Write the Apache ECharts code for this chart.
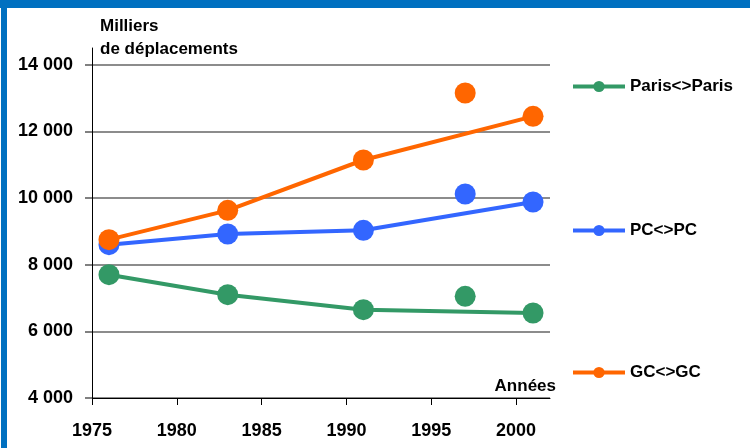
<!DOCTYPE html>
<html>
<head>
<meta charset="utf-8">
<script src="https://cdn.jsdelivr.net/npm/echarts@6/dist/echarts.min.js"></script>
<style>
html,body{margin:0;padding:0;background:#fff;}
#c{width:750px;height:448px;}
</style>
</head>
<body>
<div id="c"></div>
<script>
// ---- data ----
var lineYears = [1976, 1983, 1991, 2001];
var extraYear = 1997;
var parisLine = [7700, 7100, 6650, 6550];
var parisExtra = 7050;
var pcLine = [8600, 8920, 9030, 9880];
var pcExtra = 10120;
var gcLine = [8750, 9630, 11140, 12450];
var gcExtra = 13150;
var seriesNames = ['Paris<>Paris', 'PC<>PC', 'GC<>GC'];
var xTicks = [1975, 1980, 1985, 1990, 1995, 2000];
var yTicks = [4000, 6000, 8000, 10000, 12000, 14000];
var yAxisTitle = ['Milliers', 'de déplacements'];
var xAxisTitle = 'Années';

var colors = ['#339966', '#3366FF', '#FF6600'];
var FONT = '"Liberation Sans", Arial, sans-serif';

function pairs(xs, ys) { return xs.map(function (x, i) { return [x, ys[i]]; }); }

var lines = [parisLine, pcLine, gcLine];
var extras = [parisExtra, pcExtra, gcExtra];
var series = [];
seriesNames.forEach(function (n, i) {
  series.push({
    name: n, type: 'line', data: pairs(lineYears, lines[i]),
    symbol: 'circle', symbolSize: 21, color: colors[i],
    lineStyle: { width: 4, color: colors[i] },
    itemStyle: { color: colors[i] }, animation: false, z: 3
  });
  series.push({
    name: n, type: 'scatter', data: [[extraYear, extras[i]]],
    symbol: 'circle', symbolSize: 21, color: colors[i],
    itemStyle: { color: colors[i], opacity: 1 }, animation: false, z: 3
  });
});

var legendTops = [73, 217, 359];
var legends = seriesNames.map(function (n, i) {
  return {
    data: [n], left: 566, top: legendTops[i], orient: 'vertical',
    itemWidth: 52, itemHeight: 14, itemGap: 0,
    lineStyle: { width: 4 },
    textStyle: { fontFamily: FONT, fontSize: 17, fontWeight: 'bold', color: '#000' },
    selectedMode: false
  };
});

var chart = echarts.init(document.getElementById('c'), null, { renderer: 'canvas' });
chart.setOption({
  backgroundColor: '#fff',
  animation: false,
  color: colors,
  legend: legends,
  grid: { left: 92, right: 200, top: 48, bottom: 50, containLabel: false },
  xAxis: {
    type: 'value', min: 1975, max: 2002, interval: 5,
    axisLine: { show: true, lineStyle: { color: '#000', width: 1 } },
    axisTick: { show: true, length: 7, lineStyle: { color: '#000' }, customValues: xTicks },
    axisLabel: {
      customValues: xTicks, margin: 24, fontFamily: FONT, fontSize: 18, fontWeight: 'bold', color: '#000',
      formatter: function (v) { return String(v); }
    },
    splitLine: { show: false }
  },
  yAxis: {
    type: 'value', min: 4000, max: 14500, interval: 2000,
    axisLine: { show: true, lineStyle: { color: '#000', width: 1 } },
    axisTick: { show: true, length: 7, lineStyle: { color: '#808080', width: 2 }, customValues: yTicks },
    axisLabel: {
      customValues: yTicks, margin: 19, fontFamily: FONT, fontSize: 18, fontWeight: 'bold', color: '#000',
      formatter: function (v) { return String(v).replace(/\B(?=(\d{3})+(?!\d))/g, ' '); }
    },
    splitLine: { show: true, lineStyle: { color: '#8c8c8c', width: 2 } }
  },
  series: series,
  graphic: [
    { type: 'rect', left: 0, top: 0, shape: { width: 750, height: 8 }, style: { fill: '#0070C0' }, silent: true },
    { type: 'rect', left: 1, top: 0, shape: { width: 6, height: 448 }, style: { fill: '#0070C0' }, silent: true },
    { type: 'text', left: 100, top: 18, style: { text: yAxisTitle[0], font: 'bold 17px ' + FONT, fill: '#000' } },
    { type: 'text', left: 100, top: 41, style: { text: yAxisTitle[1], font: 'bold 17px ' + FONT, fill: '#000' } },
    { type: 'text', right: 194, top: 378, style: { text: xAxisTitle, font: 'bold 17px ' + FONT, fill: '#000', textAlign: 'right' } }
  ]
});
</script>
</body>
</html>
